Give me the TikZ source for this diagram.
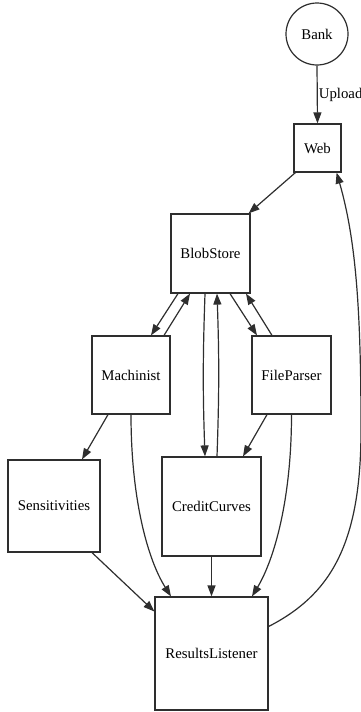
\documentclass[tikz,border=0pt]{standalone}
\usepackage{fontspec}
\setmainfont{Liberation Serif}
\usetikzlibrary{arrows.meta}
\definecolor{linec}{HTML}{2E2E2E}
\tikzset{
  box/.style={draw=linec, line width=1.2pt, inner sep=0pt, rectangle,
    font=\fontsize{14.8}{17}\selectfont},
  roundnode/.style={draw=linec, line width=1.2pt, inner sep=0pt, circle,
    minimum size=62pt, font=\fontsize{14.8}{17}\selectfont},
  arr/.style={draw=linec, line width=1.2pt, -{Triangle[length=11pt,width=8pt]}},
  lbl/.style={inner sep=0pt, font=\fontsize{14.8}{17}\selectfont}
}
\begin{document}
\begin{tikzpicture}[x=1pt, y=-1pt]
\useasboundingbox (0,0) rectangle (361,712);

% nodes
\node[roundnode] (bank) at (317,34) {Bank};
\node[box, minimum width=47pt, minimum height=48pt] (web) at (317.5,148) {Web};
\node[box, minimum width=79pt, minimum height=79pt] (bs) at (210.5,253.5) {BlobStore};
\node[box, minimum width=78pt, minimum height=78pt] (mach) at (131,375) {Machinist};
\node[box, minimum width=79pt, minimum height=78pt] (fp) at (291.5,375) {FileParser};
\node[box, minimum width=92pt, minimum height=92pt] (sens) at (54,506) {Sensitivities};
\node[box, minimum width=99pt, minimum height=99pt] (cc) at (211.5,506.5) {CreditCurves};
\node[box, minimum width=113pt, minimum height=113pt] (rl) at (211.5,653.5) {ResultsListener};

% connectors
\draw[arr] (bank.south) -- (web.north)
  node[lbl, pos=0.5, anchor=west, xshift=1pt] {Upload};
\draw[arr] ([xshift=2pt]web.south west) -- ([xshift=-2pt]bs.north east);

\draw[arr] ([xshift=-32.5pt]bs.south) -- ([xshift=20pt]mach.north);
\draw[arr] ([xshift=33pt]mach.north) -- ([xshift=-20.5pt]bs.south);

\draw[arr] ([xshift=-5.5pt]bs.south) to[bend right=2] ([xshift=-6.5pt]cc.north);
\draw[arr] ([xshift=5.5pt]cc.north) to[bend right=2] ([xshift=6.5pt]bs.south);

\draw[arr] ([xshift=19.5pt]bs.south) -- ([xshift=-34.5pt]fp.north);
\draw[arr] ([xshift=-19.5pt]fp.north) -- ([xshift=35.5pt]bs.south);

\draw[arr] ([xshift=-23pt]mach.south) -- ([xshift=28pt]sens.north);
\draw[arr] (mach.south) .. controls (131,500) and (148,560) .. ([xshift=-40.5pt]rl.north);

\draw[arr] ([xshift=-24.5pt]fp.south) -- ([xshift=31.5pt]cc.north);
\draw[arr] (fp.south) .. controls (291.5,500) and (274,560) .. ([xshift=40.5pt]rl.north);

\draw[arr] ([xshift=38pt]sens.south) -- ([yshift=42pt]rl.west);
\draw[arr] (cc.south) -- (rl.north);

\draw[arr] ([yshift=27pt]rl.east) .. controls (330,595) and (361,545) .. (361,430)
  .. controls (361,310) and (356,240) .. ([xshift=-5pt]web.south east);
\end{tikzpicture}
\end{document}
